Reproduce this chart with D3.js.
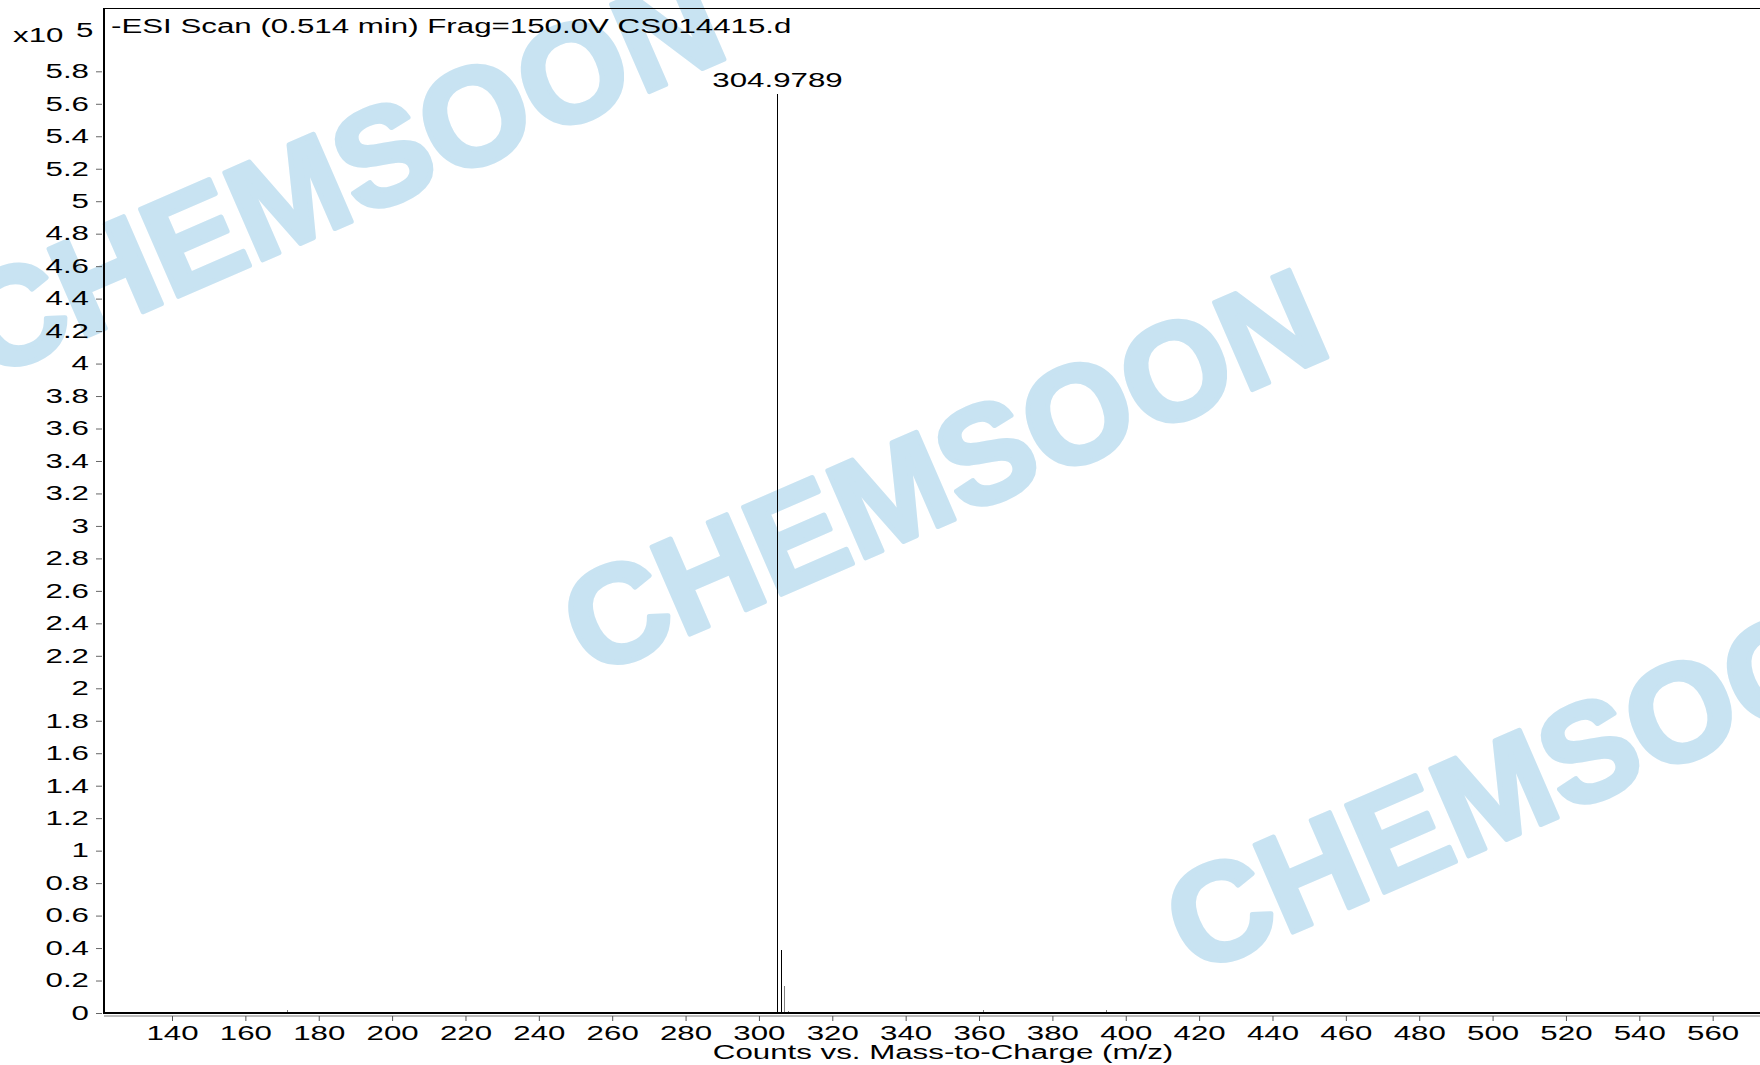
<!DOCTYPE html>
<html>
<head>
<meta charset="utf-8">
<script src="https://d3js.org/d3.v7.min.js"></script>
<style>
  body { margin: 0; background: #fff; }
  svg text { font-family: "Liberation Sans", Arial, sans-serif; }
</style>
</head>
<body>
<div id="grafico"></div>
<script>
// picos del espectro: m/z y cuentas
const peakMz     = [149.3, 171.3, 174.7, 304.9789, 305.98, 306.97, 307.97, 361.0, 394.6];
const peakCounts = [600, 1800, 800, 565900, 38600, 16400, 1000, 1800, 1800];
const labelledPeak = 304.9789;

const xTicks = [140, 160, 180, 200, 220, 240, 260, 280, 300, 320, 340, 360, 380,
                400, 420, 440, 460, 480, 500, 520, 540, 560];
const yTicks = [0, 20000, 40000, 60000, 80000, 100000, 120000, 140000, 160000, 180000,
                200000, 220000, 240000, 260000, 280000, 300000, 320000, 340000, 360000,
                380000, 400000, 420000, 440000, 460000, 480000, 500000, 520000, 540000,
                560000, 580000];

const title = "-ESI Scan (0.514 min) Frag=150.0V CS014415.d";
const xTitle = "Counts vs. Mass-to-Charge (m/z)";
const watermark = "CHEMSOON";

const ancho = 1760;
const alto = 1065;
const izq = 104, arriba = 8, abajo = 1013;
const estirar = 1.49;   // the labels in the original are drawn wide
const fs = 21;

const svg = d3.select("#grafico")
    .append("svg")
    .attr("width", ancho)
    .attr("height", alto)
    .style("display", "block");

svg.append("rect").attr("width", ancho).attr("height", alto).attr("fill", "#fff");

// watermark tiles
const wmCenters = [[340, 172], [943, 470], [1546, 768]];
svg.append("g").selectAll("text")
    .data(wmCenters)
    .join("text")
    .attr("transform", d => `translate(${d[0]},${d[1]}) rotate(-23.5)`)
    .attr("text-anchor", "middle")
    .attr("dy", "0.36em")
    .attr("font-size", 138)
    .attr("font-weight", "bold")
    .attr("fill", "#c8e3f2")
    .attr("stroke", "#c8e3f2")
    .attr("stroke-width", 5)
    .attr("stroke-linejoin", "round")
    .text(watermark);

const x = d3.scaleLinear()
    .domain([121.46, 572.9])
    .range([izq, ancho]);

const y = d3.scaleLinear()
    .domain([0, 619000])
    .range([abajo, arriba]);

const peaks = peakMz.map((mz, i) => ({ mz: mz, counts: peakCounts[i] }));

// stick spectrum
svg.append("g").selectAll("line")
    .data(peaks)
    .join("line")
    .attr("x1", d => Math.round(x(d.mz)) + 0.5)
    .attr("x2", d => Math.round(x(d.mz)) + 0.5)
    .attr("y1", abajo)
    .attr("y2", d => y(d.counts))
    .attr("stroke", d => d.counts > 30000 ? "#000" : "#808080")
    .attr("stroke-width", 1)
    .attr("shape-rendering", "crispEdges");

// x axis
svg.append("line")
    .attr("x1", izq).attr("x2", ancho)
    .attr("y1", abajo + 3).attr("y2", abajo + 3)
    .attr("stroke", "#bdbdbd").attr("stroke-width", 2);

svg.append("g")
    .attr("transform", "translate(0," + abajo + ")")
    .call(d3.axisBottom(x).tickValues(xTicks).tickSizeOuter(0))
    .call(g => {
        g.attr("font-family", null).attr("font-size", fs);
        g.select(".domain").remove();
        g.selectAll(".tick line").attr("y1", 3).attr("y2", 8).attr("stroke", "#555");
        g.selectAll(".tick text")
            .attr("y", 27).attr("dy", null)
            .attr("fill", "#000")
            .attr("transform", `scale(${estirar},1)`);
    });

// y axis
svg.append("g")
    .attr("transform", "translate(" + izq + ",0)")
    .call(d3.axisLeft(y).tickValues(yTicks).tickFormat(d => String(+(d / 1e5).toFixed(1))).tickSizeOuter(0))
    .call(g => {
        g.attr("font-family", null).attr("font-size", fs);
        g.select(".domain").remove();
        g.selectAll(".tick line").attr("x1", -2).attr("x2", -8).attr("stroke", "#666");
        g.selectAll(".tick text")
            .attr("x", -15 / estirar).attr("dy", "0.3em")
            .attr("fill", "#000")
            .attr("transform", `scale(${estirar},1)`);
    });

// frame
svg.append("line")
    .attr("x1", izq).attr("x2", ancho)
    .attr("y1", arriba + 0.5).attr("y2", arriba + 0.5)
    .attr("stroke", "#000").attr("stroke-width", 1);
svg.append("line")
    .attr("x1", izq).attr("x2", izq)
    .attr("y1", arriba).attr("y2", abajo + 1)
    .attr("stroke", "#000").attr("stroke-width", 2);
svg.append("line")
    .attr("x1", izq - 1).attr("x2", ancho)
    .attr("y1", abajo).attr("y2", abajo)
    .attr("stroke", "#000").attr("stroke-width", 2);

// texts
function stretchedText(px, py, anchor, txt) {
    return svg.append("text")
        .attr("transform", `translate(${px},${py}) scale(${estirar},1)`)
        .attr("text-anchor", anchor)
        .attr("font-size", fs)
        .attr("fill", "#000")
        .text(txt);
}

stretchedText(111, 33, "start", title);
stretchedText(13, 42, "start", "x10");
stretchedText(76, 37, "start", "5");
stretchedText(943, 1059, "middle", xTitle);

const pico = peaks.find(d => d.mz === labelledPeak);
stretchedText(Math.round(x(pico.mz)) + 0.5, y(pico.counts) - 7, "middle", pico.mz.toFixed(4));
</script>
</body>
</html>
